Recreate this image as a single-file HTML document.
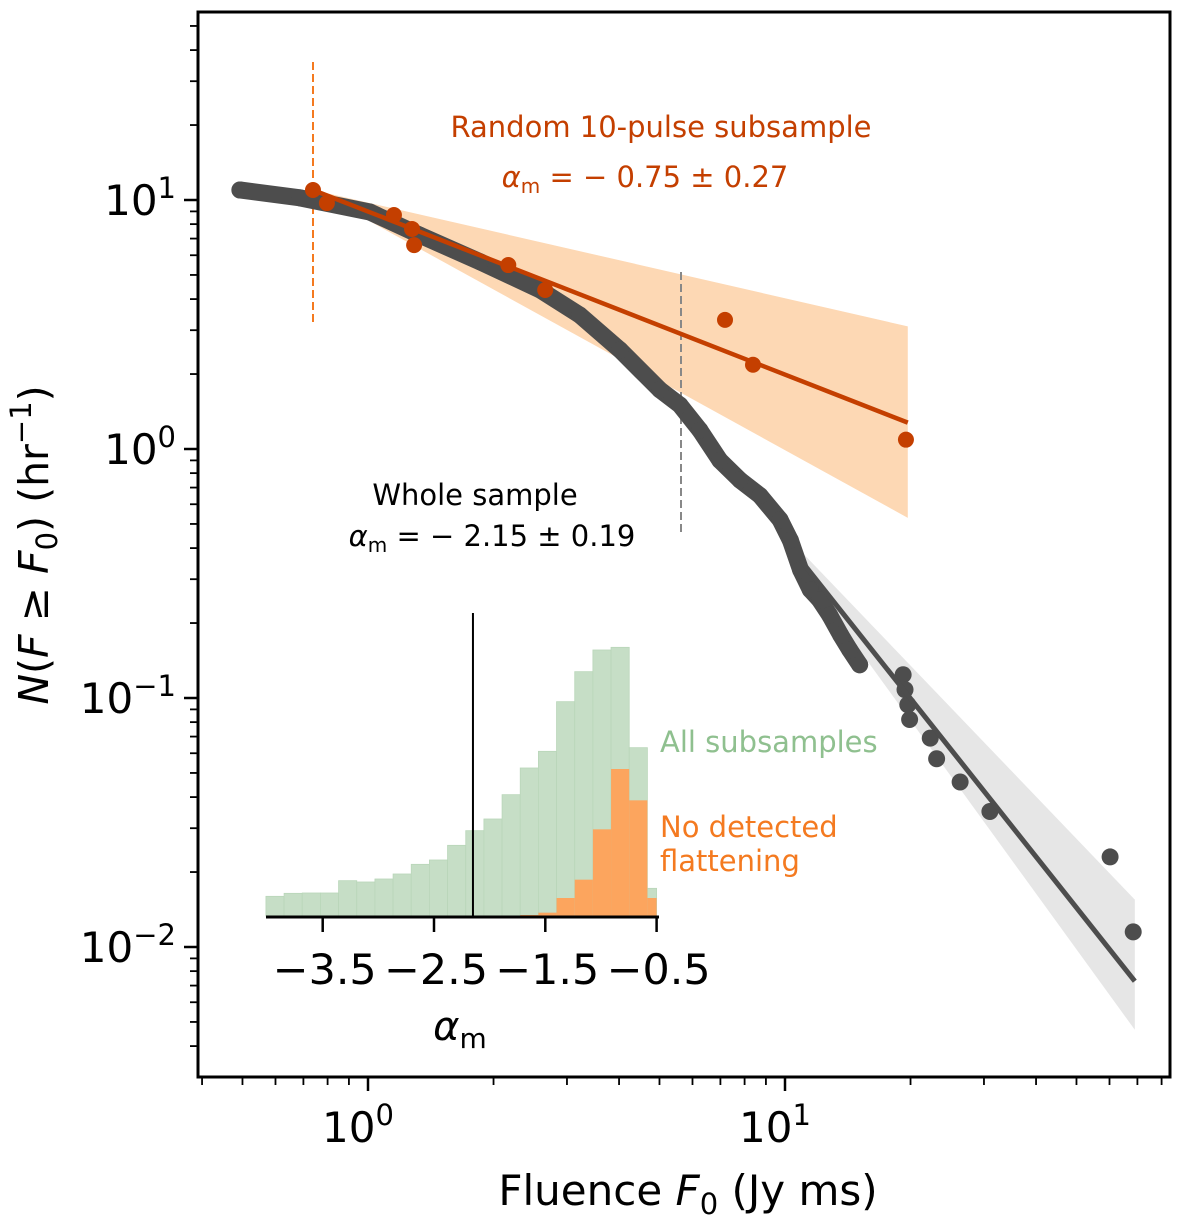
<!DOCTYPE html>
<html><head><meta charset="utf-8"><style>
body{margin:0;background:#fff;}
svg text{font-family:"DejaVu Sans","Liberation Sans",sans-serif;}
</style></head><body>
<svg id="chart" width="1200" height="1220" xmlns="http://www.w3.org/2000/svg">
<g id="g"></g>
</svg>
<script>
// ---- data ----
const grayF = [0.493,0.687,1.01,1.33,1.86,2.59,3.22,4.02,5.01,5.60,6.25,6.98,7.80,8.71,9.73,10.3,10.9,11.5,12.1,12.8,13.6,14.3,15.1];
const grayN = [10.97,10.2,8.95,7.23,5.64,4.35,3.45,2.50,1.73,1.50,1.19,0.90,0.75,0.65,0.52,0.43,0.327,0.272,0.248,0.215,0.179,0.156,0.136];
const tailF = [19.2,19.4,19.7,19.9,22.3,23.1,26.3,31.0,60.2,68.4];
const tailN = [0.124,0.108,0.094,0.082,0.069,0.057,0.046,0.035,0.023,0.0115];
const subF = [0.738,0.797,1.154,1.275,1.29,2.17,2.66,7.18,8.38,19.5];
const subN = [10.97,9.72,8.70,7.65,6.59,5.48,4.35,3.30,2.18,1.09];
const subFit = {f0:0.738, n0:10.97, f1:19.7, slope:-0.655, slopeUp:-0.384, slopeLo:-0.923};
const wholeFit = {f0:10.9, f1:69.0, n0:0.358, slope:-2.11, nUp1:0.0155, nLo1:0.00465, nUp0:0.39, nLo0:0.33};
const histAll = [59,68,69,69,106,102,111,126,155,168,212,256,291,364,444,494,643,733,798,806,505,83];
const histFlat = [0,0,0,0,0,0,0,0,0,0,0,0,0,0,3,10,54,109,260,441,347,54];
const histStart = -4.01, histBin = 0.1632;
const histTicks = ["−3.5","−2.5","−1.5","−0.5"];
const histTickVals = [-3.5,-2.5,-1.5,-0.5];
const xMajor = [0,1]; const yMajor = [1,0,-1,-2];

// ---- axes ----
const L=198,R=1170,T=12,B=1077;
const X0=368, DX=417, Y0=449, DY=249;
const xs = f => X0 + Math.log10(f)*DX;
const ys = n => Y0 - Math.log10(n)*DY;
const HX0=434, HDX=111.3, HB=916, HS=1/3;
const hx = a => HX0 + (a+2.5)*HDX;
const hy = c => HB - c*HS;

const NS="http://www.w3.org/2000/svg";
const g=document.getElementById('g');
function mk(tag,attrs,parent){const e=document.createElementNS(NS,tag);for(const k in attrs)e.setAttribute(k,attrs[k]);(parent||g).appendChild(e);return e;}

let pb=mk('polygon',{fill:'#fdd8b4',points:`${xs(subFit.f0)},${ys(subFit.n0)} ${xs(subFit.f1)},${ys(subFit.n0*Math.pow(subFit.f1/subFit.f0,subFit.slopeUp))} ${xs(subFit.f1)},${ys(subFit.n0*Math.pow(subFit.f1/subFit.f0,subFit.slopeLo))}`});


let gb=mk('polygon',{fill:'#e6e6e6',points:`${xs(wholeFit.f0)},${ys(wholeFit.nUp0)} ${xs(wholeFit.f1)},${ys(wholeFit.nUp1)} ${xs(wholeFit.f1)},${ys(wholeFit.nLo1)} ${xs(wholeFit.f0)},${ys(wholeFit.nLo0)}`});



let d1=mk('line',{x1:313,x2:313,y1:62,y2:322,stroke:'#f47a20','stroke-width':2,'stroke-dasharray':'8,4'});


let d2=mk('line',{x1:681,x2:681,y1:272,y2:533,stroke:'#888','stroke-width':2,'stroke-dasharray':'8,4'});



let pts=grayF.map((f,i)=>`${xs(f)},${ys(grayN[i])}`).join(' ');
let gl=mk('polyline',{points:pts,fill:'none',stroke:'#4d4d4d','stroke-width':17,'stroke-linecap':'round','stroke-linejoin':'round'});


grayF.forEach((f,i)=>{let c=mk('circle',{cx:xs(f),cy:ys(grayN[i]),r:8.5,fill:'#4d4d4d'});

});
tailF.forEach((f,i)=>{let c=mk('circle',{cx:xs(f),cy:ys(tailN[i]),r:8.5,fill:'#4d4d4d'});

});
let gfl=mk('line',{x1:xs(wholeFit.f0),y1:ys(wholeFit.n0),x2:xs(wholeFit.f1),y2:ys(wholeFit.n0*Math.pow(wholeFit.f1/wholeFit.f0,wholeFit.slope)),stroke:'#4d4d4d','stroke-width':5});



let ofl=mk('line',{x1:xs(subFit.f0),y1:ys(subFit.n0),x2:xs(subFit.f1),y2:ys(subFit.n0*Math.pow(subFit.f1/subFit.f0,subFit.slope)),stroke:'#c43f00','stroke-width':4.5});


subF.forEach((f,i)=>{let c=mk('circle',{cx:xs(f),cy:ys(subN[i]),r:8,fill:'#c43f00'});

});

histAll.forEach((v,i)=>{let a=histStart+i*histBin,b=Math.min(a+histBin,-0.5);
let r=mk('rect',{x:hx(a),y:hy(v),width:hx(b)-hx(a),height:v*HS,fill:'#c6dec6',stroke:'#b9d6b9','stroke-width':0.8});

});
histFlat.forEach((v,i)=>{if(!v)return;let a=histStart+i*histBin,b=Math.min(a+histBin,-0.5);
let r=mk('rect',{x:hx(a),y:hy(v),width:hx(b)-hx(a),height:v*HS,fill:'#fca55e'});

});
let vl=mk('line',{x1:hx(-2.15),x2:hx(-2.15),y1:613,y2:916,stroke:'#000','stroke-width':2});


let ha=mk('line',{x1:266,x2:659,y1:917,y2:917,stroke:'#000','stroke-width':3});


histTickVals.forEach((v,i)=>{mk('line',{x1:hx(v),x2:hx(v),y1:917,y2:932,stroke:'#000','stroke-width':2.5});
let t=mk('text',{x:hx(v)-50,y:984,'font-size':42,textLength:104,lengthAdjust:'spacingAndGlyphs'});t.textContent=histTicks[i];

});
let hal=mk('text',{x:460,y:1040,'font-size':40,'text-anchor':'middle'});
hal.innerHTML='<tspan font-style="italic">α</tspan><tspan font-size="28" dy="8">m</tspan>';



let fr=mk('rect',{x:L,y:T,width:R-L,height:B-T,fill:'none',stroke:'#000','stroke-width':3});


for(let e=-1;e<=1;e++)for(let m=1;m<10;m++){const f=m*Math.pow(10,e);const x=xs(f);if(x<L+2||x>R-2)continue;
mk('line',{x1:x,x2:x,y1:B,y2:B+(m==1?14:8),stroke:'#000','stroke-width':m==1?2.5:1.8});}
xMajor.forEach(e=>{let t=mk('text',{x:xs(Math.pow(10,e))-10,y:1142,'font-size':42,'text-anchor':'middle'});
t.innerHTML=`10<tspan font-size="29" dy="-17">${e}</tspan>`;

});
for(let e=-3;e<=1;e++)for(let m=1;m<10;m++){const n=m*Math.pow(10,e);const y=ys(n);if(y<T+2||y>B-2)continue;
mk('line',{x1:L,x2:L-(m==1?14:8),y1:y,y2:y,stroke:'#000','stroke-width':m==1?2.5:1.8});}
yMajor.forEach(e=>{let t=mk('text',{x:176,y:ys(Math.pow(10,e))+15,'font-size':42,'text-anchor':'end'});
t.innerHTML=`10<tspan font-size="29" dy="-17">${e<0?'−'+(-e):e}</tspan>`;

});

let xt=mk('text',{x:688,y:1205,'font-size':42,'text-anchor':'middle'});
xt.innerHTML='Fluence <tspan font-style="italic">F</tspan><tspan font-size="29" dy="9">0</tspan><tspan dy="-9"> (Jy ms)</tspan>';


let yt=mk('text',{x:0,y:0,'font-size':41,'text-anchor':'middle',transform:'translate(48,545) rotate(-90)'});
yt.innerHTML='<tspan font-style="italic">N</tspan>(<tspan font-style="italic">F</tspan> ≥ <tspan font-style="italic">F</tspan><tspan font-size="29" dy="9">0</tspan><tspan dy="-9">) (hr</tspan><tspan font-size="29" dy="-17">−1</tspan><tspan dy="17">)</tspan>';



function label(x,y,html,color,name,anchor){let t=mk('text',{x:x,y:y,'font-size':29,fill:color,'text-anchor':anchor||'middle'});t.innerHTML=html;

}
label(661,137,'Random 10-pulse subsample','#c43f00','subsample-title');
label(645,187,'<tspan font-style="italic">α</tspan><tspan font-size="20" dy="6">m</tspan><tspan dy="-6"> = − 0.75 ± 0.27</tspan>','#c43f00','subsample-alpha');
label(475,505,'Whole sample','#000','whole-sample-title');
label(492,546,'<tspan font-style="italic">α</tspan><tspan font-size="20" dy="6">m</tspan><tspan dy="-6"> = − 2.15 ± 0.19</tspan>','#000','whole-sample-alpha');
label(660,752,'All subsamples','#8fc08f','legend-all-subsamples','start');
label(660,837,'No detected','#f47a20','legend-no-flattening','start');
label(660,871,'flattening','#f47a20','legend-no-flattening-2','start');
</script>
</body></html>
